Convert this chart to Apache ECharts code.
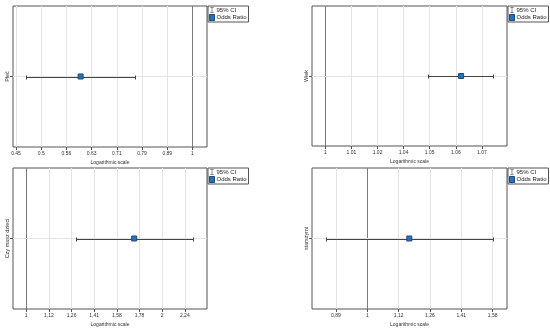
<!DOCTYPE html>
<html>
<head>
<meta charset="utf-8">
<title>Odds ratio</title>
<script src="https://cdn.jsdelivr.net/npm/echarts@6.0.0/dist/echarts.min.js"></script>
<style>
  html, body { margin: 0; padding: 0; background: #fff; }
  #main { width: 550px; height: 330px; }
</style>
</head>
<body>
<div id="main"></div>
<script>
// one panel per predictor
const categories = ['Płeć', 'Wiek', 'Czy masz dzieci', 'starszymi']
const oddsRatio = [0.600, 1.0617, 1.731, 1.167]
const ciLower = [0.468, 1.0463, 1.286, 0.859]
const ciUpper = [0.771, 1.0766, 2.335, 1.586]

// axis range of every panel (log scale)
const axisMin = [0.4406, 0.99415, 0.9348, 0.8161]
const axisMax = [1.0688, 1.0834, 2.506, 1.671]

// tick values, labels are rounded to 2 decimals
const ticks = [
  [0.4467, 0.5012, 0.5623, 0.631, 0.7079, 0.7943, 0.8913, 1],
  [1, 1.0116, 1.0233, 1.0351, 1.0471, 1.0593, 1.0715],
  [1, 1.122, 1.2589, 1.4125, 1.5849, 1.7783, 1.9953, 2.2387],
  [0.8913, 1, 1.122, 1.2589, 1.4125, 1.5849]
]
const decimalSep = ['.', '.', ',', ',']

const font = 'Liberation Sans, Arial, sans-serif'
const boxes = [
  { left: 13, top: 6, width: 194, height: 141 },
  { left: 312, top: 6, width: 195, height: 140 },
  { left: 13, top: 168, width: 194, height: 141 },
  { left: 312, top: 168, width: 195, height: 141 }
]

const chart = echarts.init(document.getElementById('main'))

const grid = []
const xAxis = []
const yAxis = []
const legend = []
const series = []

// snap to pixel centre so 1px lines stay sharp
const px = v => Math.round(v) + 0.5

boxes.forEach((b, i) => {
  grid.push({
    left: b.left, top: b.top, width: b.width, height: b.height,
    show: true, borderColor: '#555', borderWidth: 1, backgroundColor: '#fff'
  })
  xAxis.push({
    type: 'log',
    logBase: 10,
    gridIndex: i,
    min: axisMin[i],
    max: axisMax[i],
    name: 'Logarithmic scale',
    nameLocation: 'middle',
    nameGap: 13,
    nameTextStyle: { fontSize: 5, color: '#333', fontFamily: font },
    axisLine: { show: false },
    axisTick: { show: true, length: 3, customValues: ticks[i], lineStyle: { color: '#555' } },
    axisLabel: {
      customValues: ticks[i],
      fontSize: 5, color: '#333', margin: 4, fontFamily: font,
      formatter: v => String(Math.round(v * 100) / 100).replace('.', decimalSep[i])
    },
    splitLine: { show: true, lineStyle: { color: '#e4e4e4', width: 1 } }
  })
  yAxis.push({
    type: 'category',
    gridIndex: i,
    data: [categories[i]],
    axisLine: { show: false },
    axisTick: { show: true, alignWithLabel: true, length: 3, lineStyle: { color: '#555' } },
    axisLabel: { rotate: 90, fontSize: 5.5, color: '#333', margin: 3, fontFamily: font },
    splitLine: { show: false }
  })
  legend.push({
    left: b.left + b.width + 1,
    top: b.top,
    orient: 'vertical',
    backgroundColor: '#fff',
    borderColor: '#555',
    borderWidth: 1,
    padding: [1, 2, 1, 1],
    itemGap: 1,
    itemWidth: 5,
    itemHeight: 6,
    textStyle: { fontSize: 6, color: '#222', fontFamily: font, padding: [0, 0, 0, -3] },
    selectedMode: false,
    data: [
      { name: '95% CI', icon: 'path://M0,0H6V1H3.5V9H6V10H0V9H2.5V1H0Z', itemStyle: { color: '#444' } },
      { name: 'Odds Ratio', icon: 'rect', itemStyle: { color: '#2273c3', borderColor: '#27486b', borderWidth: 1 } }
    ]
  })

  // reference lines (x = 1 and the category row), kept under the marks
  series.push({
    type: 'line',
    xAxisIndex: i,
    yAxisIndex: i,
    data: [],
    z: 1,
    markLine: {
      silent: true,
      symbol: 'none',
      label: { show: false },
      animation: false,
      z: 1,
      data: [
        { xAxis: 1, lineStyle: { color: '#7a7a7a', width: 1, type: 'solid' } },
        { yAxis: categories[i], lineStyle: { color: '#e4e4e4', width: 1, type: 'solid' } }
      ]
    }
  })

  // confidence interval: horizontal bar with end caps
  series.push({
    name: '95% CI',
    type: 'custom',
    xAxisIndex: i,
    yAxisIndex: i,
    data: [[ciLower[i], ciUpper[i], 0]],
    encode: { x: [0, 1], y: 2 },
    itemStyle: { color: '#444' },
    renderItem(params, api) {
      const a = api.coord([api.value(0), api.value(2)])
      const c = api.coord([api.value(1), api.value(2)])
      const y = px(a[1])
      const x1 = px(a[0])
      const x2 = px(c[0])
      const style = { stroke: '#444', lineWidth: 1, fill: null }
      const cap = 2
      return {
        type: 'group',
        children: [
          { type: 'line', shape: { x1, y1: y, x2, y2: y }, style },
          { type: 'line', shape: { x1, y1: y - cap, x2: x1, y2: y + cap }, style },
          { type: 'line', shape: { x1: x2, y1: y - cap, x2, y2: y + cap }, style }
        ]
      }
    },
    z: 10
  })

  // odds ratio marker
  series.push({
    name: 'Odds Ratio',
    type: 'scatter',
    xAxisIndex: i,
    yAxisIndex: i,
    symbol: 'rect',
    symbolSize: 5,
    data: [[oddsRatio[i], categories[i]]],
    itemStyle: { color: '#2273c3', borderColor: '#27486b', borderWidth: 1, opacity: 1 },
    z: 11
  })
})

chart.setOption({
  animation: false,
  grid,
  xAxis,
  yAxis,
  legend,
  series
})
</script>
</body>
</html>
